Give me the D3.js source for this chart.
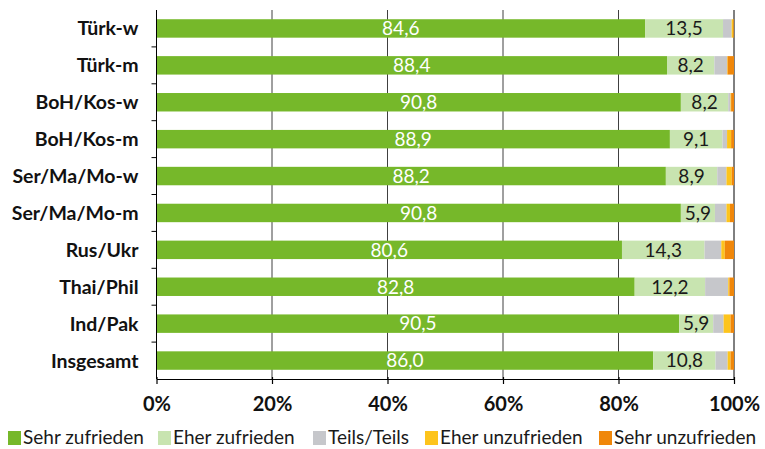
<!DOCTYPE html>
<html>
<head>
<meta charset="utf-8">
<script src="https://cdn.jsdelivr.net/npm/d3@7"></script>
<style>
  body { margin: 0; background: #fff; }
  text { font-family: Lato, "Open Sans", sans-serif; }
</style>
</head>
<body>
<div id="graph"></div>
<script>

// categories, top to bottom
const groups = ["Türk-w", "Türk-m", "BoH/Kos-w", "BoH/Kos-m", "Ser/Ma/Mo-w",
                "Ser/Ma/Mo-m", "Rus/Ukr", "Thai/Phil", "Ind/Pak", "Insgesamt"];

// series values in percent
const sehrZufrieden  = [84.6, 88.4, 90.8, 88.9, 88.2, 90.8, 80.6, 82.8, 90.5, 86.0];
const eherZufrieden  = [13.5,  8.2,  8.2,  9.1,  8.9,  5.9, 14.3, 12.2,  5.9, 10.8];
const teilsTeils     = [ 1.5,  2.2,  0.4,  0.8,  1.6,  2.0,  2.9,  4.0,  1.8,  2.1];
const eherUnzufrieden= [ 0.3,  0.1,  0.1,  0.7,  0.9,  0.6,  0.6,  0.2,  1.2,  0.5];
const sehrUnzufrieden= [ 0.1,  1.1,  0.5,  0.5,  0.4,  0.7,  1.6,  0.8,  0.6,  0.6];

const seriesNames = ["Sehr zufrieden", "Eher zufrieden", "Teils/Teils", "Eher unzufrieden", "Sehr unzufrieden"];
const seriesColors = ["#76b82a", "#c8e4b0", "#c6c7cb", "#fdc41c", "#f0870a"];
const xTicks = [0, 0.2, 0.4, 0.6, 0.8, 1];

const seriesValues = [sehrZufrieden, eherZufrieden, teilsTeils, eherUnzufrieden, sehrUnzufrieden];

// rows for stacking
const rows = groups.map((g, i) => {
  const row = {name: g};
  seriesNames.forEach((s, j) => { row[s] = seriesValues[j][i]; });
  return row;
});

var margin = {top: 10, right: 31, bottom: 70, left: 156.5},
    width = 765 - margin.left - margin.right,
    height = 449 - margin.top - margin.bottom;

var svg = d3.select("#graph").append("svg")
    .attr("width", 765)
    .attr("height", 449)
  .append("g")
    .attr("transform", "translate(" + margin.left + "," + margin.top + ")");

var x = d3.scaleLinear().domain([0, 100]).range([0, width]);
var y = d3.scaleBand().domain(groups).range([0, height]).paddingInner(0.5).paddingOuter(0.25);

// gridlines
svg.selectAll(".grid")
  .data(xTicks.slice(1))
  .enter().append("line")
  .attr("class", "grid")
  .attr("x1", d => x(d * 100))
  .attr("x2", d => x(d * 100))
  .attr("y1", 0)
  .attr("y2", height)
  .attr("stroke", d => d === 1 ? "#000" : "#404040")
  .attr("stroke-width", 1);

var stacked = d3.stack().keys(seriesNames)(rows);

var layer = svg.selectAll(".layer")
  .data(stacked)
  .enter().append("g")
  .attr("class", "layer")
  .attr("fill", (d, i) => seriesColors[i]);

layer.selectAll("rect")
  .data(d => d)
  .enter().append("rect")
  .attr("x", d => x(d[0]))
  .attr("width", d => x(d[1]) - x(d[0]))
  .attr("y", d => y(d.data.name))
  .attr("height", y.bandwidth());

// value labels for the first two series
const fmt = v => v.toFixed(1).replace(".", ",");
[0, 1].forEach(k => {
  svg.selectAll(".val" + k)
    .data(stacked[k])
    .enter().append("text")
    .attr("class", "val" + k)
    .attr("x", d => (x(d[0]) + x(d[1])) / 2)
    .attr("y", d => y(d.data.name) + y.bandwidth() / 2)
    .attr("dy", "0.36em")
    .attr("text-anchor", "middle")
    .attr("font-size", "19px")
    .attr("fill", k === 0 ? "#fff" : "#1a1a1a")
    .text(d => fmt(d[1] - d[0]));
});

// left axis, ticks between categories
var yAxis = svg.append("g");
yAxis.append("line")
  .attr("x1", 0).attr("x2", 0)
  .attr("y1", 0).attr("y2", height)
  .attr("stroke", "#000");
yAxis.selectAll(".ytick")
  .data(groups.slice(1))
  .enter().append("line")
  .attr("x1", -5).attr("x2", 0)
  .attr("y1", d => y(d) - y.step() * y.paddingInner() / 2)
  .attr("y2", d => y(d) - y.step() * y.paddingInner() / 2)
  .attr("stroke", "#000");
yAxis.selectAll(".ylab")
  .data(groups)
  .enter().append("text")
  .attr("x", -18)
  .attr("y", d => y(d) + y.bandwidth() / 2)
  .attr("dy", "0.36em")
  .attr("text-anchor", "end")
  .attr("font-size", "19.5px")
  .attr("font-weight", "bold")
  .attr("fill", "#111")
  .text(d => d);

// bottom axis
var xAxis = svg.append("g")
  .attr("transform", "translate(0," + height + ")")
  .call(d3.axisBottom(x)
    .tickValues(xTicks.map(d => d * 100))
    .tickSize(5)
    .tickSizeOuter(0)
    .tickFormat(d => d + "%"));
xAxis.select(".domain").attr("stroke", "#000").attr("stroke-width", 1.2);
xAxis.selectAll(".tick line").attr("stroke", "#000").attr("stroke-width", 1.2).attr("y1", -2);
xAxis.selectAll(".tick text")
  .attr("y", 18)
  .attr("font-size", "20px")
  .attr("font-weight", "bold")
  .attr("font-family", "Lato, sans-serif")
  .attr("fill", "#111");

// legend
const legendX = [8, 158, 313, 425, 599];
var legend = d3.select("svg").append("g")
  .attr("transform", "translate(0,437)");
var item = legend.selectAll(".leg")
  .data(seriesNames)
  .enter().append("g")
  .attr("transform", (d, i) => "translate(" + legendX[i] + ",0)");
item.append("rect")
  .attr("x", 0).attr("y", -6)
  .attr("width", 13).attr("height", 14)
  .attr("fill", (d, i) => seriesColors[i]);
item.append("text")
  .attr("x", 15)
  .attr("y", 0)
  .attr("dy", "0.36em")
  .attr("font-size", "19px")
  .attr("fill", "#1a1a1a")
  .text(d => d);

</script>
</body>
</html>
